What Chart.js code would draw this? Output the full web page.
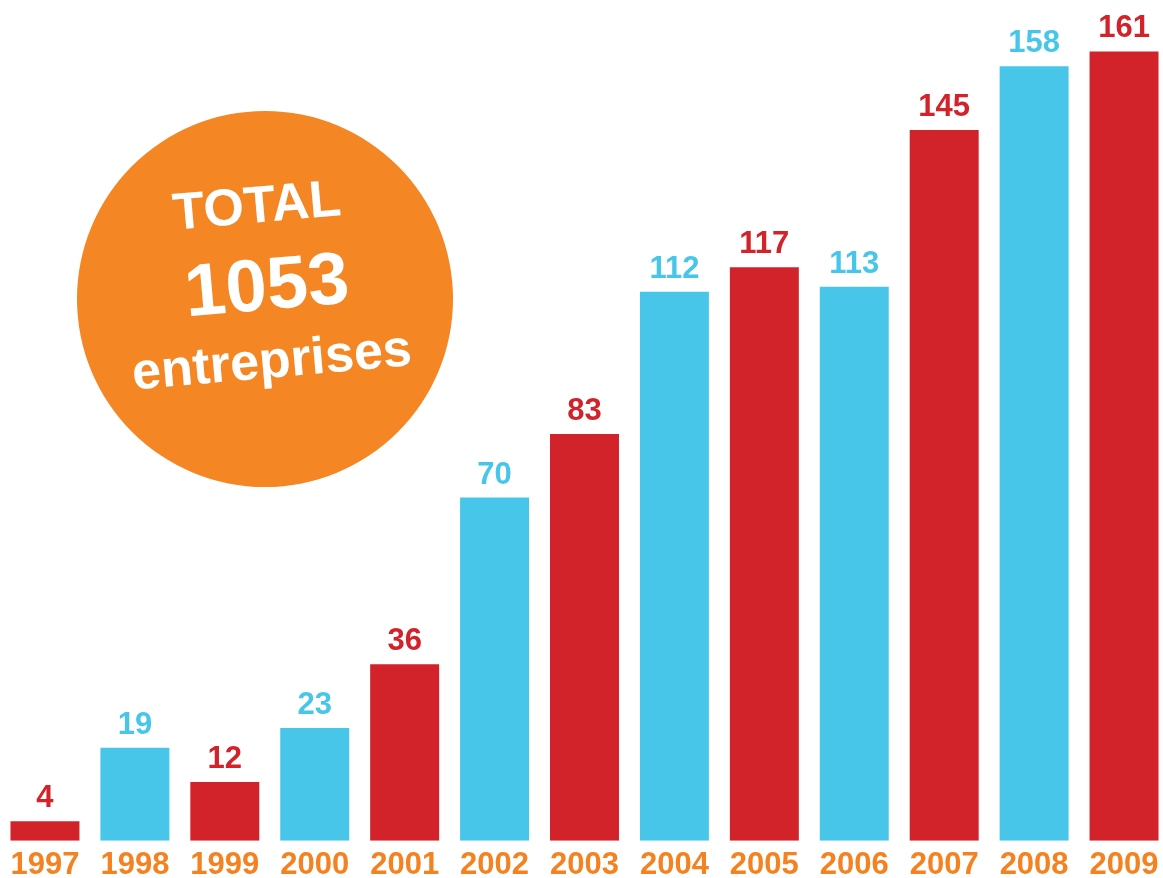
<!DOCTYPE html>
<html>
<head>
<meta charset="utf-8">
<script src="https://cdn.jsdelivr.net/npm/chart.js@4/dist/chart.umd.min.js"></script>
<style>
  html, body { margin: 0; padding: 0; background: #fff; overflow: hidden; }
  #wrap { position: relative; width: 1169px; height: 890px; }
</style>
</head>
<body>
<div id="wrap"><canvas id="myChart"></canvas></div>
<script>
// chart data
var years = ["1997", "1998", "1999", "2000", "2001", "2002", "2003", "2004", "2005", "2006", "2007", "2008", "2009"];
var counts = [4, 19, 12, 23, 36, 70, 83, 112, 117, 113, 145, 158, 161];
var totalLines = ["TOTAL", "1053", "entreprises"];

var red = "#D2232A";
var blue = "#48C6EA";
var orange = "#F48623";
// red and blue alternate
var barColors = years.map((y, i) => i % 2 == 0 ? red : blue);

var fontFam = "'Liberation Sans', Arial, Helvetica, sans-serif";

// value above each bar
const valueLabels = {
  id: "valueLabels",
  afterDatasetsDraw(chart) {
    const ctx = chart.ctx;
    const meta = chart.getDatasetMeta(0);
    ctx.save();
    ctx.font = "bold 31px " + fontFam;
    ctx.textAlign = "center";
    ctx.textBaseline = "alphabetic";
    meta.data.forEach((bar, i) => {
      ctx.fillStyle = barColors[i];
      ctx.fillText(counts[i], bar.x, bar.y - 14);
    });
    ctx.restore();
  }
};

// orange total badge
const totalBadge = {
  id: "totalBadge",
  afterDraw(chart) {
    const ctx = chart.ctx;
    ctx.save();
    ctx.fillStyle = orange;
    ctx.beginPath();
    ctx.arc(265, 299, 188, 0, Math.PI * 2);
    ctx.fill();
    ctx.fillStyle = "#fff";
    ctx.textAlign = "center";
    ctx.textBaseline = "middle";
    var spots = [[257, 208, 52], [267, 289, 74], [272, 363, 52]];
    totalLines.forEach((txt, i) => {
      ctx.save();
      ctx.translate(spots[i][0], spots[i][1]);
      ctx.rotate(-5 * Math.PI / 180);
      ctx.font = "bold " + spots[i][2] + "px " + fontFam;
      ctx.fillText(txt, 0, 0);
      ctx.restore();
    });
    ctx.restore();
  }
};

new Chart("myChart", {
  type: "bar",
  data: {
    labels: years,
    datasets: [{
      data: counts,
      backgroundColor: barColors,
      borderWidth: 0,
      barPercentage: 0.767,
      categoryPercentage: 1
    }]
  },
  options: {
    responsive: true,
    maintainAspectRatio: false,
    animation: false,
    layout: { padding: 0 },
    plugins: {
      legend: { display: false },
      tooltip: { enabled: false },
      title: { display: false }
    },
    scales: {
      x: {
        grid: { display: false, drawTicks: false },
        border: { display: false },
        ticks: {
          color: "#F58220",
          padding: 6,
          maxRotation: 0,
          autoSkip: false,
          font: { family: fontFam, size: 31, weight: "bold" }
        }
      },
      y: {
        display: false,
        min: 0,
        max: 171.5
      }
    }
  },
  plugins: [valueLabels, totalBadge]
});
</script>
</body>
</html>
